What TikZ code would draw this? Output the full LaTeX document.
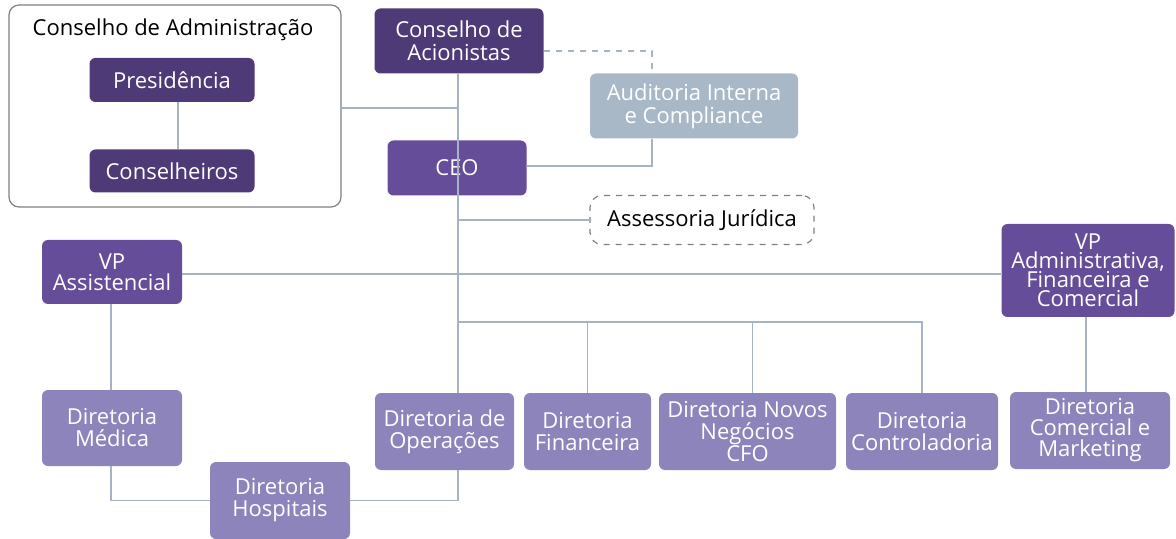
\documentclass[tikz,border=0pt]{standalone}
\usepackage{fontspec}
\setmainfont{Open Sans}
\definecolor{darkpurple}{HTML}{4F3A78}
\definecolor{midpurple}{HTML}{654D99}
\definecolor{lightpurple}{HTML}{8E84BC}
\definecolor{auditgray}{HTML}{A9B8C7}
\definecolor{linegray}{HTML}{A5B3C3}
\definecolor{framegray}{HTML}{808080}
\begin{document}
\begin{tikzpicture}[x=0.5pt,y=-0.5pt]
        \tikzstyle{box}=[rounded corners=3pt,align=center,text=white,inner sep=0pt,font=\fontsize{11}{11}\selectfont]
        \tikzstyle{board}=[box,fill=darkpurple]
        \tikzstyle{exec}=[box,fill=midpurple]
        \tikzstyle{dir}=[box,fill=lightpurple,minimum height=38.5pt]
        \tikzstyle{edge}=[draw=linegray,line width=0.7pt]
        \useasboundingbox (0,0) rectangle (1176,539);

        % conselho de administracao
        \node [draw=framegray,line width=0.6pt,rounded corners=5pt,minimum width=166pt,minimum height=101pt] (admin) at (175,106) {};
        \node [font=\fontsize{11}{11}\selectfont] (admint) at (173,30) {Conselho de Administração};
        \node [board,minimum width=82.5pt,minimum height=22pt] (pres) at (172,80) {Presidência};
        \node [board,minimum width=82.5pt,minimum height=21.5pt] (cons) at (172,171) {Conselheiros};

        % topo
        \node [board,font=\fontsize{11}{11.5}\selectfont,minimum width=84.5pt,minimum height=32.5pt] (acion) at (459,41) {Conselho de\\Acionistas};
        \node [exec,minimum width=69.5pt,minimum height=27.5pt] (ceo) at (457,168) {CEO};
        \node [box,fill=auditgray,font=\fontsize{11}{11.5}\selectfont,minimum width=104pt,minimum height=32.5pt] (aud) at (694,106) {Auditoria Interna\\e Compliance};
        \node [box,text=black,draw=framegray,dashed,line width=0.6pt,rounded corners=6pt,minimum width=112pt,minimum height=24.5pt] (ass) at (702,220) {Assessoria Jurídica};

        % vps
        \node [exec,font=\fontsize{11}{10.5}\selectfont,minimum width=70pt,minimum height=32pt] (vpa) at (112,272) {VP\\Assistencial};
        \node [exec,font=\fontsize{11}{9.5}\selectfont,minimum width=86.5pt,minimum height=46.5pt] (vpf) at (1088,270.5) {VP\\Administrativa,\\Financeira e\\Comercial};

        % diretorias
        \node [dir,minimum width=70pt,minimum height=38pt] (dmed) at (112,428) {Diretoria\\Médica};
        \node [dir,minimum width=70pt] (dhos) at (280,500.5) {Diretoria\\Hospitais};
        \node [dir,minimum width=69.5pt] (dop) at (444.5,431.5) {Diretoria de\\Operações};
        \node [dir,minimum width=63.5pt] (dfin) at (587.5,431.5) {Diretoria\\Financeira};
        \node [dir,minimum width=88.5pt] (dnov) at (747.5,431.5) {Diretoria Novos\\Negócios\\CFO};
        \node [dir,minimum width=76pt] (dcon) at (922,431.5) {Diretoria\\Controladoria};
        \node [dir,font=\fontsize{11}{10.5}\selectfont,minimum width=80pt] (dcom) at (1090,430.5) {Diretoria\\Comercial e\\Marketing};

        \coordinate (sp) at (458,0);
        \coordinate (au) at (652,0);
        \coordinate (bus) at (458,322);

        \path[edge] ([xshift=3pt]pres.south) -- ([xshift=3pt]cons.north);
        \path[edge] (acion.south -| sp) -- (dop.north -| sp);
        \path[edge] ([yshift=-1pt]admin.east) -- ([yshift=-1pt]admin.east -| sp);
        \path[edge,dashed] ([yshift=-5pt]acion.east) -| (aud.north -| au);
        \path[edge] (aud.south -| au) |- ([yshift=1pt]ceo.east);
        \path[edge] (ass.west -| sp) -- (ass.west);
        \path[edge] ([yshift=-1pt]vpa.east) -- ([yshift=-1pt]vpa.east -| vpf.west);
        \path[edge] ([xshift=-0.5pt]vpa.south) -- ([xshift=-0.5pt]dmed.north);
        \path[edge] (bus) -| (dcon.north);
        \path[edge] (bus -| dfin.north) -- (dfin.north);
        \path[edge] ([xshift=2.5pt]bus -| dnov.north) -- ([xshift=2.5pt]dnov.north);
        \path[edge] ([xshift=-1pt]vpf.south) -- ([xshift=-1pt]vpf.south |- dcom.north);
        \path[edge] ([xshift=-0.5pt]dmed.south) |- (dhos.west);
        \path[edge] (dhos.east) -| (dop.south -| sp);
\end{tikzpicture}
\end{document}
